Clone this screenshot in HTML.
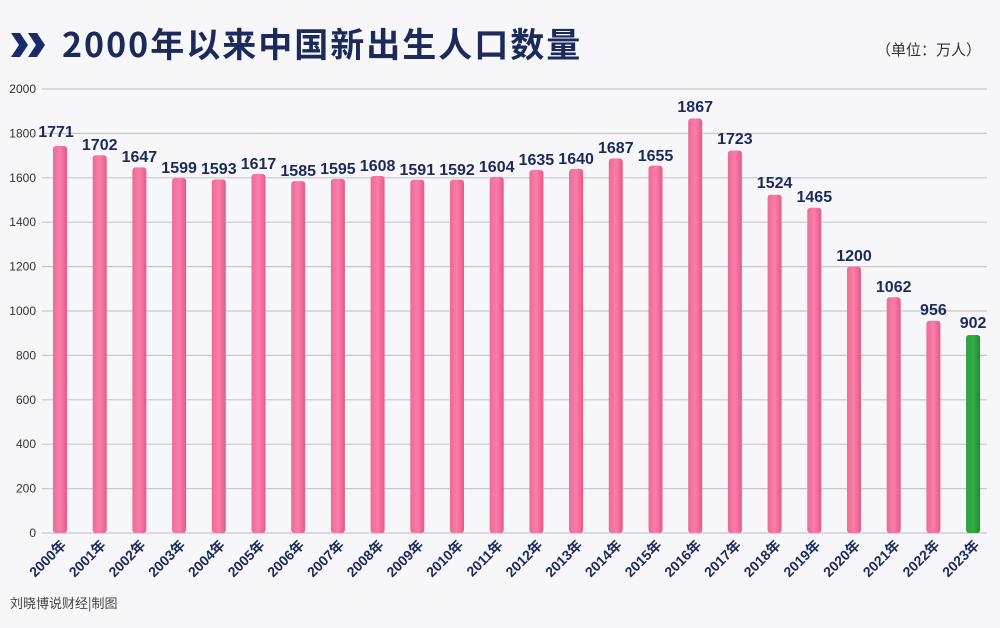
<!DOCTYPE html>
<html><head><meta charset="utf-8"><style>
body{margin:0;background:#f7f7f9;}
svg{display:block;font-family:"Liberation Sans","Noto Sans CJK SC",sans-serif;}
</style></head><body>
<svg width="1000" height="628" viewBox="0 0 1000 628" xmlns="http://www.w3.org/2000/svg">
<defs>
<linearGradient id="pk" x1="0" y1="0" x2="1" y2="0"><stop offset="0" stop-color="#ee6a97"/><stop offset="0.5" stop-color="#f97ea8"/><stop offset="1" stop-color="#e9588a"/></linearGradient>
<linearGradient id="gr" x1="0" y1="0" x2="1" y2="0"><stop offset="0" stop-color="#2a9e3e"/><stop offset="0.5" stop-color="#33ad48"/><stop offset="1" stop-color="#1f8a32"/></linearGradient>
</defs>
<rect width="1000" height="628" fill="#f7f7f9"/>
<polygon points="11,33 20,33 28,45 20,57 11,57 19,45" fill="#1b2a6b"/>
<polygon points="28,33 37,33 45,45 37,57 28,57 36,45" fill="#1b2a6b"/>
<text x="62" y="57" font-size="34" font-weight="bold" fill="#1b2a5a" font-family="'Noto Sans CJK SC',sans-serif" letter-spacing="2">2000年以来中国新出生人口数量</text>
<text x="876" y="55" font-size="15" fill="#333" font-family="'Noto Sans CJK SC',sans-serif">（单位：万人）</text>
<g stroke="#c8c8cc" stroke-width="1.2">
<line x1="42" y1="89" x2="987" y2="89"/><line x1="42" y1="133.4" x2="987" y2="133.4"/><line x1="42" y1="177.8" x2="987" y2="177.8"/><line x1="42" y1="222.2" x2="987" y2="222.2"/><line x1="42" y1="266.6" x2="987" y2="266.6"/><line x1="42" y1="311" x2="987" y2="311"/><line x1="42" y1="355.4" x2="987" y2="355.4"/><line x1="42" y1="399.8" x2="987" y2="399.8"/><line x1="42" y1="444.2" x2="987" y2="444.2"/><line x1="42" y1="488.6" x2="987" y2="488.6"/><line x1="42" y1="533" x2="987" y2="533"/>
</g>
<g font-size="12" fill="#333" text-anchor="end">
<text x="36" y="93">2000</text><text x="36" y="137.4">1800</text><text x="36" y="181.8">1600</text><text x="36" y="226.2">1400</text><text x="36" y="270.6">1200</text><text x="36" y="315">1000</text><text x="36" y="359.4">800</text><text x="36" y="403.8">600</text><text x="36" y="448.2">400</text><text x="36" y="492.6">200</text><text x="36" y="537">0</text>
</g>
<g fill="url(#pk)">
<rect x="53" y="146" width="14" height="387" rx="3"/>
<rect x="92.7" y="155.2" width="14" height="377.8" rx="3"/>
<rect x="132.4" y="167.4" width="14" height="365.6" rx="3"/>
<rect x="172.1" y="178" width="14" height="355" rx="3"/>
<rect x="211.8" y="179.4" width="14" height="353.6" rx="3"/>
<rect x="251.5" y="174" width="14" height="359" rx="3"/>
<rect x="291.2" y="181.1" width="14" height="351.9" rx="3"/>
<rect x="330.9" y="178.9" width="14" height="354.1" rx="3"/>
<rect x="370.6" y="176" width="14" height="357" rx="3"/>
<rect x="410.3" y="179.8" width="14" height="353.2" rx="3"/>
<rect x="450" y="179.6" width="14" height="353.4" rx="3"/>
<rect x="489.7" y="176.9" width="14" height="356.1" rx="3"/>
<rect x="529.4" y="170" width="14" height="363" rx="3"/>
<rect x="569.1" y="168.9" width="14" height="364.1" rx="3"/>
<rect x="608.8" y="158.5" width="14" height="374.5" rx="3"/>
<rect x="648.5" y="165.6" width="14" height="367.4" rx="3"/>
<rect x="688.2" y="118.5" width="14" height="414.5" rx="3"/>
<rect x="727.9" y="150.5" width="14" height="382.5" rx="3"/>
<rect x="767.6" y="194.7" width="14" height="338.3" rx="3"/>
<rect x="807.3" y="207.8" width="14" height="325.2" rx="3"/>
<rect x="847" y="266.6" width="14" height="266.4" rx="3"/>
<rect x="886.7" y="297.2" width="14" height="235.8" rx="3"/>
<rect x="926.4" y="320.8" width="14" height="212.2" rx="3"/>
</g>
<rect x="966.1" y="335" width="14" height="198" rx="3" fill="url(#gr)"/>
<g font-size="16" font-weight="bold" fill="#1b2a5a" text-anchor="middle">
<text x="56" y="137">1771</text><text x="99.7" y="150">1702</text><text x="139.4" y="162">1647</text><text x="179.1" y="173">1599</text><text x="218.8" y="174">1593</text><text x="258.5" y="169">1617</text><text x="298.2" y="176">1585</text><text x="337.9" y="174">1595</text><text x="377.6" y="171">1608</text><text x="417.3" y="175">1591</text><text x="457" y="175">1592</text><text x="496.7" y="172">1604</text><text x="536.4" y="165">1635</text><text x="576.1" y="164">1640</text><text x="615.8" y="153">1687</text><text x="655.5" y="161">1655</text><text x="695.2" y="112">1867</text><text x="734.9" y="144">1723</text><text x="774.6" y="188">1524</text><text x="814.3" y="202">1465</text><text x="854" y="261">1200</text><text x="893.7" y="292">1062</text><text x="933.4" y="315">956</text><text x="973.1" y="328">902</text>
</g>
<g font-size="14" font-weight="bold" fill="#1b2a5a" text-anchor="end" font-family="'Liberation Sans','Noto Sans CJK SC',sans-serif">
<text transform="translate(67,546) rotate(-45)">2000年</text>
<text transform="translate(106.7,546) rotate(-45)">2001年</text>
<text transform="translate(146.4,546) rotate(-45)">2002年</text>
<text transform="translate(186.1,546) rotate(-45)">2003年</text>
<text transform="translate(225.8,546) rotate(-45)">2004年</text>
<text transform="translate(265.5,546) rotate(-45)">2005年</text>
<text transform="translate(305.2,546) rotate(-45)">2006年</text>
<text transform="translate(344.9,546) rotate(-45)">2007年</text>
<text transform="translate(384.6,546) rotate(-45)">2008年</text>
<text transform="translate(424.3,546) rotate(-45)">2009年</text>
<text transform="translate(464,546) rotate(-45)">2010年</text>
<text transform="translate(503.7,546) rotate(-45)">2011年</text>
<text transform="translate(543.4,546) rotate(-45)">2012年</text>
<text transform="translate(583.1,546) rotate(-45)">2013年</text>
<text transform="translate(622.8,546) rotate(-45)">2014年</text>
<text transform="translate(662.5,546) rotate(-45)">2015年</text>
<text transform="translate(702.2,546) rotate(-45)">2016年</text>
<text transform="translate(741.9,546) rotate(-45)">2017年</text>
<text transform="translate(781.6,546) rotate(-45)">2018年</text>
<text transform="translate(821.3,546) rotate(-45)">2019年</text>
<text transform="translate(861,546) rotate(-45)">2020年</text>
<text transform="translate(900.7,546) rotate(-45)">2021年</text>
<text transform="translate(940.4,546) rotate(-45)">2022年</text>
<text transform="translate(980.1,546) rotate(-45)">2023年</text>
</g>
<text x="10" y="608" font-size="13" fill="#444" font-family="'Noto Sans CJK SC',sans-serif">刘晓博说财经|制图</text>
</svg>
</body></html>
